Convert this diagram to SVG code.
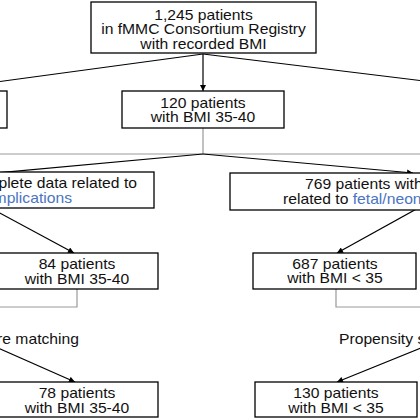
<svg xmlns="http://www.w3.org/2000/svg" width="420" height="420" viewBox="0 0 420 420">
<defs>
<marker id="ah" viewBox="0 0 10 10" refX="10" refY="5" markerWidth="7" markerHeight="6" markerUnits="userSpaceOnUse" orient="auto">
<path d="M0,0 L10,5 L0,10 z" fill="#000"/>
</marker>
<style>
.box{fill:#fff;stroke:#000;stroke-width:1.3}
.t{font-family:"Liberation Sans",Arial,sans-serif;font-size:14px;fill:#111}
.c{text-anchor:middle}
.e{text-anchor:end}
.blue{fill:#4a74c0}
.ln{fill:none;stroke:#000;stroke-width:1.2}
.gr{fill:none;stroke:#999;stroke-width:1.2}
</style>
</defs>
<rect width="420" height="420" fill="#fff"/>
<g id="connectors">
<path class="ln" d="M203,54 L0,81.5"/>
<path class="ln" d="M203,54 L420,80.5"/>
<path class="ln" d="M203,54 L203,91" marker-end="url(#ah)"/>
<path class="gr" d="M203,128 L203,154 M0,154 L420,154"/>
<path class="ln" d="M203,154 L-5,173"/>
<path class="ln" d="M203,154 L413,173" marker-end="url(#ah)"/>
<path class="ln" d="M-2,212 L74,253" marker-end="url(#ah)"/>
<path class="ln" d="M420,207 L337,253" marker-end="url(#ah)"/>
<path class="gr" d="M77,289 L77,307 L0,307"/>
<path class="gr" d="M336,289 L336,307 L420,307"/>
<path class="ln" d="M-2,348 L75,382" marker-end="url(#ah)"/>
<path class="ln" d="M421,348 L337,382" marker-end="url(#ah)"/>
</g>
<g id="n_total">
<rect class="box" x="91" y="2" width="225" height="51"/>
<g transform="matrix(1.12 0 0 1 -24.42 0)">
<text class="t c" x="203.5" y="20">1,245 patients</text>
<text class="t c" x="203.5" y="34.5">in fMMC Consortium Registry</text>
<text class="t c" x="203.5" y="49">with recorded BMI</text>
</g>
</g>
<g id="n_left_partial">
<rect class="box" x="-10" y="91" width="17" height="37"/>
</g>
<g id="n_120">
<rect class="box" x="122" y="91" width="162" height="37"/>
<g transform="matrix(1.12 0 0 1 -24.36 0)">
<text class="t c" x="203" y="108">120 patients</text>
<text class="t c" x="203" y="122.5">with BMI 35-40</text>
</g>
</g>
<g id="n_maternal">
<rect class="box" x="-10" y="172" width="164" height="36"/>
<text class="t e" x="137" y="188" transform="matrix(1.12 0 0 1 -16.44 0)">plete data related to</text>
<text class="t e blue" x="72" y="203" transform="matrix(1.12 0 0 1 -8.64 0)">mplications</text>
</g>
<g id="n_769">
<rect class="box" x="230" y="173" width="200" height="37"/>
<text class="t" x="305" y="189.5" transform="matrix(1.12 0 0 1 -36.6 0)">769 patients with</text>
<text class="t" x="283" y="204.5" transform="matrix(1.12 0 0 1 -33.96 0)">related to <tspan class="blue">fetal/neon</tspan></text>
</g>
<g id="n_84">
<rect class="box" x="-10" y="253" width="168" height="36"/>
<g transform="matrix(1.12 0 0 1 -9.24 0)">
<text class="t c" x="77" y="269.5">84 patients</text>
<text class="t c" x="77" y="284">with BMI 35-40</text>
</g>
</g>
<g id="n_687">
<rect class="box" x="253" y="253" width="163" height="36"/>
<g transform="matrix(1.12 0 0 1 -40.2 0)">
<text class="t c" x="335" y="269">687 patients</text>
<text class="t c" x="335" y="283.5">with BMI &lt; 35</text>
</g>
</g>
<g id="lbl_left">
<text class="t e" x="79" y="344.5" transform="matrix(1.12 0 0 1 -9.48 0)">re matching</text>
</g>
<g id="lbl_right">
<text class="t" x="339" y="344.5" transform="matrix(1.12 0 0 1 -40.68 0)">Propensity sc</text>
</g>
<g id="n_78">
<rect class="box" x="-10" y="382" width="168" height="35"/>
<g transform="matrix(1.12 0 0 1 -9.24 0)">
<text class="t c" x="77" y="398.5">78 patients</text>
<text class="t c" x="77" y="413">with BMI 35-40</text>
</g>
</g>
<g id="n_130">
<rect class="box" x="255" y="382" width="162" height="35"/>
<g transform="matrix(1.12 0 0 1 -40.32 0)">
<text class="t c" x="336" y="398.5">130 patients</text>
<text class="t c" x="336" y="413">with BMI &lt; 35</text>
</g>
</g>
</svg>
